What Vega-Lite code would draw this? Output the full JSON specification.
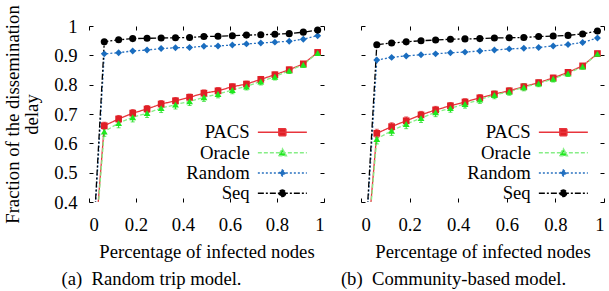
{
  "$schema": "https://vega.github.io/schema/vega-lite/v6.json",
  "padding": {"left": 3, "top": 4, "right": 2, "bottom": 0},
  "spacing": 15,
  "data": {"values": [
    {"p":"a","s":"PACS","x":0,"y":0,"e":0},
    {"p":"a","s":"PACS","x":0.065,"y":0.660,"e":0.012},
    {"p":"a","s":"PACS","x":0.126,"y":0.683,"e":0.012},
    {"p":"a","s":"PACS","x":0.186,"y":0.703,"e":0.012},
    {"p":"a","s":"PACS","x":0.247,"y":0.717,"e":0.012},
    {"p":"a","s":"PACS","x":0.307,"y":0.734,"e":0.012},
    {"p":"a","s":"PACS","x":0.368,"y":0.745,"e":0.011},
    {"p":"a","s":"PACS","x":0.428,"y":0.757,"e":0.011},
    {"p":"a","s":"PACS","x":0.489,"y":0.771,"e":0.011},
    {"p":"a","s":"PACS","x":0.549,"y":0.779,"e":0.011},
    {"p":"a","s":"PACS","x":0.61,"y":0.793,"e":0.010},
    {"p":"a","s":"PACS","x":0.67,"y":0.802,"e":0.010},
    {"p":"a","s":"PACS","x":0.731,"y":0.818,"e":0.010},
    {"p":"a","s":"PACS","x":0.791,"y":0.834,"e":0.009},
    {"p":"a","s":"PACS","x":0.852,"y":0.851,"e":0.009},
    {"p":"a","s":"PACS","x":0.912,"y":0.871,"e":0.008},
    {"p":"a","s":"PACS","x":0.973,"y":0.910,"e":0.008},
    {"p":"a","s":"Oracle","x":0,"y":0,"e":0},
    {"p":"a","s":"Oracle","x":0.065,"y":0.640,"e":0.016},
    {"p":"a","s":"Oracle","x":0.126,"y":0.669,"e":0.016},
    {"p":"a","s":"Oracle","x":0.186,"y":0.689,"e":0.016},
    {"p":"a","s":"Oracle","x":0.247,"y":0.703,"e":0.015},
    {"p":"a","s":"Oracle","x":0.307,"y":0.720,"e":0.015},
    {"p":"a","s":"Oracle","x":0.368,"y":0.732,"e":0.015},
    {"p":"a","s":"Oracle","x":0.428,"y":0.743,"e":0.014},
    {"p":"a","s":"Oracle","x":0.489,"y":0.757,"e":0.014},
    {"p":"a","s":"Oracle","x":0.549,"y":0.768,"e":0.013},
    {"p":"a","s":"Oracle","x":0.61,"y":0.782,"e":0.013},
    {"p":"a","s":"Oracle","x":0.67,"y":0.794,"e":0.012},
    {"p":"a","s":"Oracle","x":0.731,"y":0.811,"e":0.012},
    {"p":"a","s":"Oracle","x":0.791,"y":0.827,"e":0.011},
    {"p":"a","s":"Oracle","x":0.852,"y":0.848,"e":0.010},
    {"p":"a","s":"Oracle","x":0.912,"y":0.868,"e":0.009},
    {"p":"a","s":"Oracle","x":0.973,"y":0.908,"e":0.008},
    {"p":"a","s":"Random","x":0,"y":0,"e":0},
    {"p":"a","s":"Random","x":0.065,"y":0.905,"e":0},
    {"p":"a","s":"Random","x":0.126,"y":0.909,"e":0},
    {"p":"a","s":"Random","x":0.186,"y":0.915,"e":0},
    {"p":"a","s":"Random","x":0.247,"y":0.918,"e":0},
    {"p":"a","s":"Random","x":0.307,"y":0.923,"e":0},
    {"p":"a","s":"Random","x":0.368,"y":0.926,"e":0},
    {"p":"a","s":"Random","x":0.428,"y":0.927,"e":0},
    {"p":"a","s":"Random","x":0.489,"y":0.931,"e":0},
    {"p":"a","s":"Random","x":0.549,"y":0.932,"e":0},
    {"p":"a","s":"Random","x":0.61,"y":0.935,"e":0},
    {"p":"a","s":"Random","x":0.67,"y":0.939,"e":0},
    {"p":"a","s":"Random","x":0.731,"y":0.942,"e":0},
    {"p":"a","s":"Random","x":0.791,"y":0.945,"e":0},
    {"p":"a","s":"Random","x":0.852,"y":0.948,"e":0},
    {"p":"a","s":"Random","x":0.912,"y":0.955,"e":0},
    {"p":"a","s":"Random","x":0.973,"y":0.967,"e":0},
    {"p":"a","s":"Seq","x":0,"y":0,"e":0},
    {"p":"a","s":"Seq","x":0.065,"y":0.946,"e":0},
    {"p":"a","s":"Seq","x":0.126,"y":0.953,"e":0},
    {"p":"a","s":"Seq","x":0.186,"y":0.957,"e":0},
    {"p":"a","s":"Seq","x":0.247,"y":0.958,"e":0},
    {"p":"a","s":"Seq","x":0.307,"y":0.959,"e":0},
    {"p":"a","s":"Seq","x":0.368,"y":0.960,"e":0},
    {"p":"a","s":"Seq","x":0.428,"y":0.961,"e":0},
    {"p":"a","s":"Seq","x":0.489,"y":0.964,"e":0},
    {"p":"a","s":"Seq","x":0.549,"y":0.965,"e":0},
    {"p":"a","s":"Seq","x":0.61,"y":0.967,"e":0},
    {"p":"a","s":"Seq","x":0.67,"y":0.969,"e":0},
    {"p":"a","s":"Seq","x":0.731,"y":0.970,"e":0},
    {"p":"a","s":"Seq","x":0.791,"y":0.972,"e":0},
    {"p":"a","s":"Seq","x":0.852,"y":0.974,"e":0},
    {"p":"a","s":"Seq","x":0.912,"y":0.979,"e":0},
    {"p":"a","s":"Seq","x":0.973,"y":0.986,"e":0},
    {"p":"b","s":"PACS","x":0,"y":0,"e":0},
    {"p":"b","s":"PACS","x":0.065,"y":0.634,"e":0.014},
    {"p":"b","s":"PACS","x":0.126,"y":0.657,"e":0.013},
    {"p":"b","s":"PACS","x":0.186,"y":0.677,"e":0.013},
    {"p":"b","s":"PACS","x":0.247,"y":0.697,"e":0.012},
    {"p":"b","s":"PACS","x":0.307,"y":0.714,"e":0.012},
    {"p":"b","s":"PACS","x":0.368,"y":0.728,"e":0.011},
    {"p":"b","s":"PACS","x":0.428,"y":0.741,"e":0.011},
    {"p":"b","s":"PACS","x":0.489,"y":0.755,"e":0.011},
    {"p":"b","s":"PACS","x":0.549,"y":0.768,"e":0.010},
    {"p":"b","s":"PACS","x":0.61,"y":0.779,"e":0.010},
    {"p":"b","s":"PACS","x":0.67,"y":0.793,"e":0.010},
    {"p":"b","s":"PACS","x":0.731,"y":0.807,"e":0.009},
    {"p":"b","s":"PACS","x":0.791,"y":0.823,"e":0.009},
    {"p":"b","s":"PACS","x":0.852,"y":0.842,"e":0.009},
    {"p":"b","s":"PACS","x":0.912,"y":0.864,"e":0.008},
    {"p":"b","s":"PACS","x":0.973,"y":0.906,"e":0.008},
    {"p":"b","s":"Oracle","x":0,"y":0,"e":0},
    {"p":"b","s":"Oracle","x":0.065,"y":0.615,"e":0.017},
    {"p":"b","s":"Oracle","x":0.126,"y":0.643,"e":0.016},
    {"p":"b","s":"Oracle","x":0.186,"y":0.666,"e":0.016},
    {"p":"b","s":"Oracle","x":0.247,"y":0.686,"e":0.015},
    {"p":"b","s":"Oracle","x":0.307,"y":0.706,"e":0.015},
    {"p":"b","s":"Oracle","x":0.368,"y":0.720,"e":0.014},
    {"p":"b","s":"Oracle","x":0.428,"y":0.734,"e":0.014},
    {"p":"b","s":"Oracle","x":0.489,"y":0.749,"e":0.013},
    {"p":"b","s":"Oracle","x":0.549,"y":0.765,"e":0.013},
    {"p":"b","s":"Oracle","x":0.61,"y":0.776,"e":0.012},
    {"p":"b","s":"Oracle","x":0.67,"y":0.791,"e":0.012},
    {"p":"b","s":"Oracle","x":0.731,"y":0.804,"e":0.011},
    {"p":"b","s":"Oracle","x":0.791,"y":0.820,"e":0.011},
    {"p":"b","s":"Oracle","x":0.852,"y":0.838,"e":0.010},
    {"p":"b","s":"Oracle","x":0.912,"y":0.862,"e":0.009},
    {"p":"b","s":"Oracle","x":0.973,"y":0.905,"e":0.008},
    {"p":"b","s":"Random","x":0,"y":0,"e":0},
    {"p":"b","s":"Random","x":0.065,"y":0.884,"e":0},
    {"p":"b","s":"Random","x":0.126,"y":0.893,"e":0},
    {"p":"b","s":"Random","x":0.186,"y":0.898,"e":0},
    {"p":"b","s":"Random","x":0.247,"y":0.902,"e":0},
    {"p":"b","s":"Random","x":0.307,"y":0.905,"e":0},
    {"p":"b","s":"Random","x":0.368,"y":0.909,"e":0},
    {"p":"b","s":"Random","x":0.428,"y":0.911,"e":0},
    {"p":"b","s":"Random","x":0.489,"y":0.915,"e":0},
    {"p":"b","s":"Random","x":0.549,"y":0.918,"e":0},
    {"p":"b","s":"Random","x":0.61,"y":0.922,"e":0},
    {"p":"b","s":"Random","x":0.67,"y":0.924,"e":0},
    {"p":"b","s":"Random","x":0.731,"y":0.927,"e":0},
    {"p":"b","s":"Random","x":0.791,"y":0.932,"e":0},
    {"p":"b","s":"Random","x":0.852,"y":0.937,"e":0},
    {"p":"b","s":"Random","x":0.912,"y":0.944,"e":0},
    {"p":"b","s":"Random","x":0.973,"y":0.959,"e":0},
    {"p":"b","s":"Seq","x":0,"y":0,"e":0},
    {"p":"b","s":"Seq","x":0.065,"y":0.936,"e":0},
    {"p":"b","s":"Seq","x":0.126,"y":0.942,"e":0},
    {"p":"b","s":"Seq","x":0.186,"y":0.946,"e":0},
    {"p":"b","s":"Seq","x":0.247,"y":0.950,"e":0},
    {"p":"b","s":"Seq","x":0.307,"y":0.952,"e":0},
    {"p":"b","s":"Seq","x":0.368,"y":0.955,"e":0},
    {"p":"b","s":"Seq","x":0.428,"y":0.956,"e":0},
    {"p":"b","s":"Seq","x":0.489,"y":0.957,"e":0},
    {"p":"b","s":"Seq","x":0.549,"y":0.959,"e":0},
    {"p":"b","s":"Seq","x":0.61,"y":0.960,"e":0},
    {"p":"b","s":"Seq","x":0.67,"y":0.961,"e":0},
    {"p":"b","s":"Seq","x":0.731,"y":0.964,"e":0},
    {"p":"b","s":"Seq","x":0.791,"y":0.966,"e":0},
    {"p":"b","s":"Seq","x":0.852,"y":0.968,"e":0},
    {"p":"b","s":"Seq","x":0.912,"y":0.973,"e":0},
    {"p":"b","s":"Seq","x":0.973,"y":0.983,"e":0}
  ]},
  "hconcat": [
    {
      "width": 235, "height": 176,
      "transform": [{"filter": "datum.p === 'a'"}],
      "title": {"text": "(a)\u00a0 Random trip model.", "orient": "bottom", "anchor": "middle", "frame": "group", "dx": -55, "offset": 9},
      "layer": [
        {
          "mark": {"type": "line", "clip": true, "strokeWidth": 1.3},
          "encoding": {
            "x": {"field": "x", "type": "quantitative", "scale": {"domain": [0, 1], "nice": false, "zero": false},
                  "axis": {"orient": "bottom", "values": [0, 0.2, 0.4, 0.6, 0.8, 1], "format": "~g", "title": "Percentage of infected nodes", "labelPadding": 17, "titlePadding": 9}},
            "y": {"field": "y", "type": "quantitative", "scale": {"domain": [0.4, 1], "nice": false, "zero": false},
                  "axis": {"orient": "left", "values": [0.4, 0.5, 0.6, 0.7, 0.8, 0.9, 1], "format": "~g", "title": ["Fraction of the dissemination", "delay"], "titleLineHeight": 19, "labelPadding": 16, "titlePadding": 12}},
            "color": {"field": "s", "type": "nominal", "scale": {"domain": ["PACS", "Oracle", "Random", "Seq"], "range": ["#e8343c", "#86ee86", "#2a72c0", "#000000"]}, "legend": null},
            "strokeDash": {"field": "s", "type": "nominal", "scale": {"domain": ["PACS", "Oracle", "Random", "Seq"], "range": [[1, 0], [4, 2], [2, 2], [6, 2, 2, 2]]}, "legend": null}
          }
        },
        {
          "transform": [{"filter": "datum.e > 0"}],
          "mark": {"type": "errorbar", "ticks": {"size": 4}, "thickness": 1},
          "encoding": {
            "x": {"field": "x", "type": "quantitative", "scale": {"domain": [0, 1], "nice": false, "zero": false}, "axis": null},
            "y": {"field": "y", "type": "quantitative", "scale": {"domain": [0.4, 1], "nice": false, "zero": false}, "axis": null},
            "yError": {"field": "e"},
            "color": {"field": "s", "type": "nominal", "scale": {"domain": ["PACS", "Oracle", "Random", "Seq"], "range": ["#e01f26", "#1edc1e", "#1a6dbf", "#000000"]}, "legend": null}
          }
        },
        {
          "transform": [{"filter": "datum.x > 0"}],
          "mark": {"type": "point", "filled": true, "opacity": 1},
          "encoding": {
            "x": {"field": "x", "type": "quantitative", "scale": {"domain": [0, 1], "nice": false, "zero": false},
                  "axis": {"orient": "top", "values": [0, 0.2, 0.4, 0.6, 0.8, 1], "labels": false, "title": null}},
            "y": {"field": "y", "type": "quantitative", "scale": {"domain": [0.4, 1], "nice": false, "zero": false},
                  "axis": {"orient": "right", "values": [0.4, 0.5, 0.6, 0.7, 0.8, 0.9, 1], "labels": false, "title": null}},
            "color": {"field": "s", "type": "nominal", "scale": {"domain": ["PACS", "Oracle", "Random", "Seq"], "range": ["#e01f26", "#1ee81e", "#1a6dbf", "#000000"]}, "legend": null},
            "shape": {"field": "s", "type": "nominal", "scale": {"domain": ["PACS", "Oracle", "Random", "Seq"], "range": ["square", "triangle-up", "diamond", "circle"]}, "legend": null},
            "size": {"field": "s", "type": "nominal", "scale": {"domain": ["PACS", "Oracle", "Random", "Seq"], "range": [45, 50, 28, 42]}, "legend": null}
          }
        },
        {
          "transform": [{"filter": "datum.x > 5"}],
          "mark": {"type": "point", "filled": true, "opacity": 1},
          "encoding": {
            "x": {"field": "x", "type": "quantitative", "scale": {"domain": [0, 1], "nice": false, "zero": false}, "axis": null},
            "y": {"field": "y", "type": "quantitative", "scale": {"domain": [0.4, 1], "nice": false, "zero": false}, "axis": null},
            "fill": {"field": "s", "type": "nominal", "title": null, "scale": {"domain": ["PACS", "Oracle", "Random", "Seq"], "range": ["#e01f26", "#1ee81e", "#1a6dbf", "#000000"]},
                     "legend": {"orient": "none", "legendX": 184, "legendY": 97, "title": null}},
            "stroke": {"field": "s", "type": "nominal", "title": null, "scale": {"domain": ["PACS", "Oracle", "Random", "Seq"], "range": ["#e8343c", "#86ee86", "#2a72c0", "#000000"]},
                       "legend": {"orient": "none", "legendX": 184, "legendY": 97, "title": null}},
            "shape": {"field": "s", "type": "nominal", "title": null, "scale": {"domain": ["PACS", "Oracle", "Random", "Seq"], "range": ["M-4.9,0H4.9M-0.7,-0.7H0.7V0.7H-0.7Z", "M-4.9,0H4.9M0,-0.8L0.8,0.6H-0.8Z", "M-4.9,0H4.9M0,-0.6L0.6,0L0,0.6L-0.6,0Z", "M-4.9,0H4.9M0.65,0A0.65,0.65,0,1,1,-0.65,0A0.65,0.65,0,1,1,0.65,0Z"]},
                      "legend": {"orient": "none", "legendX": 184, "legendY": 97, "title": null}},
            "strokeDash": {"field": "s", "type": "nominal", "title": null, "scale": {"domain": ["PACS", "Oracle", "Random", "Seq"], "range": [[1, 0], [4, 2], [2, 2], [6, 2, 2, 2]]},
                           "legend": {"orient": "none", "legendX": 184, "legendY": 97, "title": null}}
          }
        }
      ],
      "resolve": {
        "axis": {"x": "independent", "y": "independent"},
        "scale": {"color": "independent", "shape": "independent", "strokeDash": "independent", "size": "independent", "fill": "independent", "stroke": "independent"}
      }
    },
    {
      "width": 243, "height": 176,
      "transform": [{"filter": "datum.p === 'b'"}],
      "title": {"text": "(b)\u00a0 Community-based model.", "orient": "bottom", "anchor": "middle", "frame": "group", "dx": -29, "offset": 9},
      "layer": [
        {
          "mark": {"type": "line", "clip": true, "strokeWidth": 1.3},
          "encoding": {
            "x": {"field": "x", "type": "quantitative", "scale": {"domain": [0, 1], "nice": false, "zero": false},
                  "axis": {"orient": "bottom", "values": [0, 0.2, 0.4, 0.6, 0.8, 1], "format": "~g", "title": "Percentage of infected nodes", "labelPadding": 17, "titlePadding": 9}},
            "y": {"field": "y", "type": "quantitative", "scale": {"domain": [0.4, 1], "nice": false, "zero": false},
                  "axis": {"orient": "left", "values": [0.4, 0.5, 0.6, 0.7, 0.8, 0.9, 1], "labels": false, "title": null}},
            "color": {"field": "s", "type": "nominal", "scale": {"domain": ["PACS", "Oracle", "Random", "Seq"], "range": ["#e8343c", "#86ee86", "#2a72c0", "#000000"]}, "legend": null},
            "strokeDash": {"field": "s", "type": "nominal", "scale": {"domain": ["PACS", "Oracle", "Random", "Seq"], "range": [[1, 0], [4, 2], [2, 2], [6, 2, 2, 2]]}, "legend": null}
          }
        },
        {
          "transform": [{"filter": "datum.e > 0"}],
          "mark": {"type": "errorbar", "ticks": {"size": 4}, "thickness": 1},
          "encoding": {
            "x": {"field": "x", "type": "quantitative", "scale": {"domain": [0, 1], "nice": false, "zero": false}, "axis": null},
            "y": {"field": "y", "type": "quantitative", "scale": {"domain": [0.4, 1], "nice": false, "zero": false}, "axis": null},
            "yError": {"field": "e"},
            "color": {"field": "s", "type": "nominal", "scale": {"domain": ["PACS", "Oracle", "Random", "Seq"], "range": ["#e01f26", "#1edc1e", "#1a6dbf", "#000000"]}, "legend": null}
          }
        },
        {
          "transform": [{"filter": "datum.x > 0"}],
          "mark": {"type": "point", "filled": true, "opacity": 1},
          "encoding": {
            "x": {"field": "x", "type": "quantitative", "scale": {"domain": [0, 1], "nice": false, "zero": false},
                  "axis": {"orient": "top", "values": [0, 0.2, 0.4, 0.6, 0.8, 1], "labels": false, "title": null}},
            "y": {"field": "y", "type": "quantitative", "scale": {"domain": [0.4, 1], "nice": false, "zero": false},
                  "axis": {"orient": "right", "values": [0.4, 0.5, 0.6, 0.7, 0.8, 0.9, 1], "labels": false, "title": null}},
            "color": {"field": "s", "type": "nominal", "scale": {"domain": ["PACS", "Oracle", "Random", "Seq"], "range": ["#e01f26", "#1ee81e", "#1a6dbf", "#000000"]}, "legend": null},
            "shape": {"field": "s", "type": "nominal", "scale": {"domain": ["PACS", "Oracle", "Random", "Seq"], "range": ["square", "triangle-up", "diamond", "circle"]}, "legend": null},
            "size": {"field": "s", "type": "nominal", "scale": {"domain": ["PACS", "Oracle", "Random", "Seq"], "range": [45, 50, 28, 42]}, "legend": null}
          }
        },
        {
          "transform": [{"filter": "datum.x > 5"}],
          "mark": {"type": "point", "filled": true, "opacity": 1},
          "encoding": {
            "x": {"field": "x", "type": "quantitative", "scale": {"domain": [0, 1], "nice": false, "zero": false}, "axis": null},
            "y": {"field": "y", "type": "quantitative", "scale": {"domain": [0.4, 1], "nice": false, "zero": false}, "axis": null},
            "fill": {"field": "s", "type": "nominal", "title": null, "scale": {"domain": ["PACS", "Oracle", "Random", "Seq"], "range": ["#e01f26", "#1ee81e", "#1a6dbf", "#000000"]},
                     "legend": {"orient": "none", "legendX": 193, "legendY": 97, "title": null}},
            "stroke": {"field": "s", "type": "nominal", "title": null, "scale": {"domain": ["PACS", "Oracle", "Random", "Seq"], "range": ["#e8343c", "#86ee86", "#2a72c0", "#000000"]},
                       "legend": {"orient": "none", "legendX": 193, "legendY": 97, "title": null}},
            "shape": {"field": "s", "type": "nominal", "title": null, "scale": {"domain": ["PACS", "Oracle", "Random", "Seq"], "range": ["M-4.9,0H4.9M-0.7,-0.7H0.7V0.7H-0.7Z", "M-4.9,0H4.9M0,-0.8L0.8,0.6H-0.8Z", "M-4.9,0H4.9M0,-0.6L0.6,0L0,0.6L-0.6,0Z", "M-4.9,0H4.9M0.65,0A0.65,0.65,0,1,1,-0.65,0A0.65,0.65,0,1,1,0.65,0Z"]},
                      "legend": {"orient": "none", "legendX": 193, "legendY": 97, "title": null}},
            "strokeDash": {"field": "s", "type": "nominal", "title": null, "scale": {"domain": ["PACS", "Oracle", "Random", "Seq"], "range": [[1, 0], [4, 2], [2, 2], [6, 2, 2, 2]]},
                           "legend": {"orient": "none", "legendX": 193, "legendY": 97, "title": null}}
          }
        }
      ],
      "resolve": {
        "axis": {"x": "independent", "y": "independent"},
        "scale": {"color": "independent", "shape": "independent", "strokeDash": "independent", "size": "independent", "fill": "independent", "stroke": "independent"}
      }
    }
  ],
  "resolve": {
    "scale": {"color": "independent", "shape": "independent", "strokeDash": "independent", "size": "independent", "fill": "independent", "stroke": "independent"},
    "legend": {"color": "independent", "shape": "independent", "strokeDash": "independent", "size": "independent", "fill": "independent", "stroke": "independent"}
  },
  "config": {
    "font": "Liberation Serif",
    "view": {"stroke": null},
    "axis": {
      "domain": false, "grid": false, "tickSize": -4, "tickColor": "#000000", "tickWidth": 1,
      "labelFont": "Liberation Serif", "labelFontSize": 18.7, "labelColor": "#000000",
      "titleFont": "Liberation Serif", "titleFontSize": 18.7, "titleColor": "#000000", "titleFontWeight": "normal",
      "minExtent": 0
    },
    "legend": {
      "labelFont": "Liberation Serif", "labelFontSize": 18.7, "labelColor": "#000000",
      "labelAlign": "right", "labelOffset": -42, "symbolSize": 100, "symbolStrokeWidth": 1.5,
      "symbolOpacity": 1, "padding": 0, "rowPadding": 0.3, "offset": 0
    },
    "title": {"font": "Liberation Serif", "fontSize": 18.7, "fontWeight": "normal", "color": "#000000"}
  }
}
